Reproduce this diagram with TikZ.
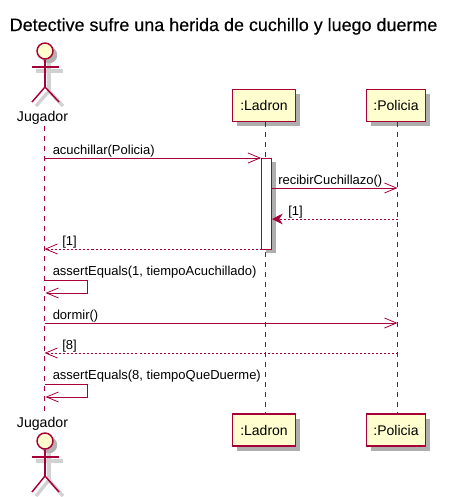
\documentclass[tikz,border=0pt]{standalone}
\usepackage{fontspec}
\setmainfont{Liberation Sans}
\newfontfamily\titlefont[FakeBold=0.3]{Liberation Sans}
\usetikzlibrary{arrows.meta, positioning, shadows}

\definecolor{umlline}{HTML}{A80036}
\definecolor{umlfill}{HTML}{FEFECE}

\tikzset{
    partbox/.style={rectangle, draw=umlline, fill=umlfill, line width=1.1pt, minimum height=24pt, inner sep=0pt, font=\fontsize{10.5}{12}\selectfont, drop shadow={shadow xshift=3.5pt, shadow yshift=-3.5pt, fill=black!45, opacity=0.7}},
    lifeline/.style={draw=umlline, line width=0.75pt, dash pattern=on 3.75pt off 3.75pt},
    msg/.style={draw=umlline, line width=0.75pt, -{Straight Barb[length=9pt, width=7.5pt, line width=0.6pt]}},
    msgback/.style={msg, dash pattern=on 1.5pt off 1.5pt},
    msgfill/.style={draw=umlline, line width=0.75pt, dash pattern=on 1.5pt off 1.5pt, -{Stealth[length=8pt, width=8pt, inset=2.5pt]}},
    msgtext/.style={anchor=base west, inner sep=0pt, font=\fontsize{9.75}{12}\selectfont},
    actorhead/.style={circle, draw=umlline, fill=umlfill, line width=1.1pt, minimum size=12pt, inner sep=0pt},
    actorline/.style={draw=umlline, line width=1.1pt},
    actorshadow/.style={draw=black!18, line width=2.5pt},
    actorname/.style={inner sep=0pt, font=\fontsize{10.6}{12}\selectfont}
}

\begin{document}
\begin{tikzpicture}[x=0.75pt, y=-0.75pt]
    \useasboundingbox (0,0) rectangle (452,497);

    % Title
    \node[anchor=base west, inner sep=0pt, font=\titlefont\fontsize{13.45}{16}\selectfont] (title) at (9.5,31) {Detective sufre una herida de cuchillo y luego duerme};

    % Participants
    \node[actorname] (jugTop) at (42.5,118) {Jugador};
    \node[actorname] (jugBot) at (42.5,424) {Jugador};
    \node[partbox, minimum width=47.5pt] (ladTop) at (264,105.5) {:Ladron};
    \node[partbox, minimum width=44.5pt] (polTop) at (396,105.5) {:Policia};
    \node[partbox, minimum width=47.5pt] (ladBot) at (264,430) {:Ladron};
    \node[partbox, minimum width=44.5pt] (polBot) at (396,430) {:Policia};

    % Lifeline end points
    \coordinate (jugA) at (44.5,126);
    \coordinate (jugB) at (44.5,412);
    \coordinate (ladA) at (265.5,122);
    \coordinate (ladB) at (265.5,414);
    \coordinate (polA) at (397.5,122);
    \coordinate (polB) at (397.5,414);
    \draw[lifeline] (jugA) -- (jugB);
    \draw[lifeline] (ladA) -- (ladB);
    \draw[lifeline] (polA) -- (polB);

    % Activation
    \node[rectangle, draw=umlline, fill=white, line width=0.75pt, minimum width=7.5pt, minimum height=68.25pt, inner sep=0pt, drop shadow={shadow xshift=3pt, shadow yshift=-3pt, fill=black!45, opacity=0.7}] (act) at (266.5,203.5) {};

    % Actors, top and bottom
    \foreach \name/\yhead/\yarm/\yhip/\yfoot in {Top/51/67/87/102, Bot/441/457/476/492} {
        \coordinate (hip\name) at (45,\yhip);
        \coordinate (armL\name) at (32,\yarm);
        \coordinate (armR\name) at (59,\yarm);
        \coordinate (footL\name) at (32,\yfoot);
        \coordinate (footR\name) at (59,\yfoot);
        % shadow
        \draw[actorshadow] ([shift={(4,4)}]armL\name) -- ([shift={(4,4)}]armR\name);
        \draw[actorshadow] ([shift={(4,4)}]45,\yhead) -- ([shift={(4,4)}]hip\name);
        \draw[actorshadow] ([shift={(4,4)}]footL\name) -- ([shift={(4,4)}]hip\name) -- ([shift={(4,4)}]footR\name);
        \fill[black!30] (49,\yhead+4) circle (6.2pt);
        % figure
        \node[actorhead] (head\name) at (45,\yhead) {};
        \draw[actorline] (head\name) -- (hip\name);
        \draw[actorline] (armL\name) -- (armR\name);
        \draw[actorline] (footL\name) -- (hip\name) -- (footR\name);
    }

    % Message anchors on the lifelines
    \foreach \n/\y in {a/158, d/249, f/353} \coordinate (jug\n) at (44.5,\y);
    \foreach \n/\y in {a/158} \coordinate (lad\n) at (261,\y);
    \coordinate (actb) at (271.5,188);
    \coordinate (actc) at (272,219);
    \coordinate (actd) at (261.5,249);
    \foreach \n/\y in {b/188, c/219, e/323, f/353} \coordinate (pol\n) at (397.5,\y);
    \coordinate (jugeStart) at (44.5,323);

    % Messages
    \draw[msg] (juga) -- (lada);
    \node[msgtext] (acuchillar) at (52.5,154) {acuchillar(Policia)};
    \draw[msg] (actb) -- (polb);
    \node[msgtext] (recibir) at (278,184) {recibirCuchillazo()};
    \draw[msgfill] (polc) -- (actc);
    \node[msgtext] (retUno) at (288,215) {[1]};
    \draw[msgback] (actd) -- (jugd);
    \node[msgtext] (retDos) at (62,245) {[1]};

    % Self call 1
    \coordinate (selfA) at (44.5,280);
    \coordinate (selfB) at (87.5,280);
    \coordinate (selfC) at (87.5,293);
    \coordinate (selfD) at (45.5,293);
    \draw[msg] (selfA) -- (selfB) -- (selfC) -- (selfD);
    \node[msgtext] (assertUno) at (52.5,275) {assertEquals(1, tiempoAcuchillado)};

    \draw[msg] (jugeStart) -- (pole);
    \node[msgtext] (dormir) at (52.5,319) {dormir()};
    \draw[msgback] (polf) -- (jugf);
    \node[msgtext] (retOcho) at (62,349) {[8]};

    % Self call 2
    \coordinate (selfE) at (44.5,384);
    \coordinate (selfF) at (87.5,384);
    \coordinate (selfG) at (87.5,397);
    \coordinate (selfH) at (45.5,397);
    \draw[msg] (selfE) -- (selfF) -- (selfG) -- (selfH);
    \node[msgtext] (assertOcho) at (52.5,379) {assertEquals(8, tiempoQueDuerme)};
\end{tikzpicture}
\end{document}
